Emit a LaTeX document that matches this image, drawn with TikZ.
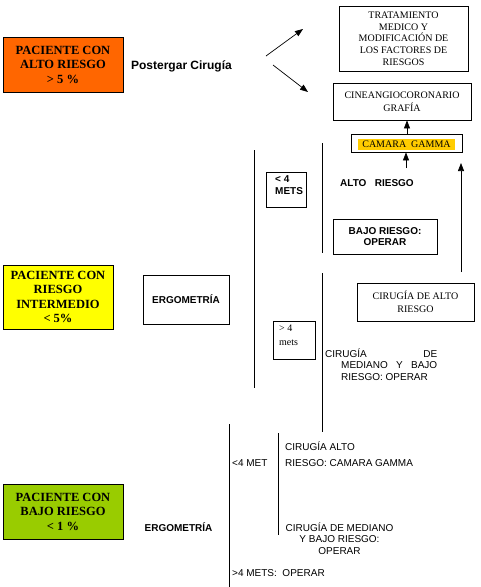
\documentclass[tikz,border=0pt]{standalone}
\usepackage{fontspec}
\setmainfont{Liberation Serif}
\setsansfont{Liberation Sans}
\usetikzlibrary{arrows.meta}
\definecolor{naranja}{RGB}{255,102,0}
\definecolor{amarillo}{RGB}{255,255,0}
\definecolor{verde}{RGB}{153,204,0}
\definecolor{resalte}{RGB}{255,204,0}
\begin{document}
\begin{tikzpicture}[x=1pt,y=-1pt,
  box/.style={draw, line width=0.8pt, inner sep=0pt, align=center},
  patient/.style={box, font=\fontsize{12.5}{14.5}\selectfont\bfseries},
  serifR/.style={font=\fontsize{10}{11.7}\selectfont},
  sansB/.style={font=\sffamily\bfseries\fontsize{10}{11.5}\selectfont},
  sansR/.style={font=\sffamily\fontsize{10}{11.5}\selectfont},
  arr/.style={-{Triangle[length=8pt,width=6pt]}, line width=0.7pt},
  ln/.style={line width=0.8pt}]
\useasboundingbox[fill=white] (0,0) rectangle (480,587);

% patient boxes
\node[patient, fill=naranja, minimum width=120, minimum height=55] (alto) at (63,64.5) {PACIENTE CON\\ALTO RIESGO\\> 5 \%};
\node[patient, fill=amarillo, minimum width=110, minimum height=64] (inter) at (58,297) {PACIENTE CON\\RIESGO\\INTERMEDIO\\< 5\%};
\node[patient, fill=verde, minimum width=120, minimum height=55] (bajoP) at (63,511.5) {PACIENTE CON\\BAJO RIESGO\\< 1 \%};

% top section
\node[font=\sffamily\bfseries\fontsize{12}{14}\selectfont, inner sep=0pt] (post) at (181.5,66) {Postergar Cirugía};
\node[box, serifR, minimum width=129, minimum height=65] (trat) at (403.5,38.5) {TRATAMIENTO\\MEDICO Y\\MODIFICACIÓN DE\\LOS FACTORES DE\\RIESGOS};
\node[box, serifR, minimum width=138, minimum height=37, font=\fontsize{10}{12.5}\selectfont] (cine) at (402,101.5) {CINEANGIOCORONARIO\\GRAFÍA};
\node[box, minimum width=111, minimum height=18] (gamma) at (406.5,143) {};
\node[serifR, fill=resalte, inner sep=0pt, minimum width=97, minimum height=11] (gammat) at (406.5,144) {CAMARA\ \ GAMMA};

\coordinate (pa1s) at (266,56); \coordinate (pa1e) at (303,29);
\coordinate (pa2s) at (273,65); \coordinate (pa2e) at (308,92);
\draw[arr] (pa1s) -- (pa1e);
\draw[arr] (pa2s) -- (pa2e);
\draw[arr] (gamma.north -| 407,0) -- (cine.south -| 407,0);

% intermediate section
\node[box, minimum width=86, minimum height=49, font=\sffamily\bfseries\fontsize{10}{11.5}\selectfont] (ergo) at (186,299.5) {ERGOMETRÍA};
\coordinate (l1t) at (254,150); \coordinate (l1b) at (254,388);
\draw[ln] (l1t) -- (l1b);
\coordinate (l2t) at (322,143); \coordinate (l2m) at (322,253);
\coordinate (l3t) at (322,273); \coordinate (l3b) at (322,432);
\draw[ln] (l2t) -- (l2m);
\draw[ln] (l3t) -- (l3b);

\node[draw, line width=0.8pt, minimum width=40, minimum height=35, inner sep=0pt] (mets4) at (286,189.5) {};
\node[sansB, anchor=north west, align=left, inner sep=0pt] (mets4t) at (275,175.5) {< 4\\METS};
\node[sansB, anchor=west, inner sep=0pt] (altoR) at (340,183) {ALTO\ \ \ RIESGO};
\node[box, sansB, minimum width=104, minimum height=35] (bajo) at (385,236.5) {BAJO RIESGO:\\OPERAR};

\node[box, serifR, minimum width=117, minimum height=38, font=\fontsize{10}{12.5}\selectfont] (altoC) at (415.5,302) {CIRUGÍA DE ALTO\\RIESGO};
\node[draw, line width=0.8pt, minimum width=42, minimum height=38, inner sep=0pt] (mets4b) at (294,340) {};
\node[serifR, anchor=north west, align=left, inner sep=0pt, font=\fontsize{10}{14}\selectfont] (mets4bt) at (279,325) {> 4\\mets};
\node[sansR, anchor=north west, align=left, inner sep=0pt] (medA) at (325,348.5) {\makebox[112pt][s]{CIRUGÍA\hfill DE}\\\hspace*{16pt}\makebox[96pt][s]{MEDIANO\hfill Y\hfill BAJO}\\\hspace*{16pt}RIESGO: OPERAR};

\coordinate (a1s) at (406,168);
\draw[arr] (a1s) -- (gamma.south -| a1s);
\coordinate (a2s) at (461,272); \coordinate (a2e) at (461,163);
\draw[arr] (a2s) -- (a2e);

% low-risk section
\node[sansB, inner sep=0pt] (ergo2) at (178.5,527) {ERGOMETRÍA};
\coordinate (l4t) at (229,424); \coordinate (l4b) at (229,587);
\draw[ln] (l4t) -- (l4b);
\coordinate (l5t) at (278,433); \coordinate (l5b) at (278,535);
\draw[ln] (l5t) -- (l5b);
\node[sansR, anchor=west, inner sep=0pt] (met4) at (232,463) {<4 MET};
\node[sansR, anchor=west, inner sep=0pt] (cirA) at (285,446) {CIRUGÍA ALTO};
\node[sansR, anchor=west, inner sep=0pt] (cirB) at (285,463) {RIESGO: CAMARA GAMMA};
\node[sansR, align=center, inner sep=0pt] (cirM) at (339.5,538.5) {CIRUGÍA DE MEDIANO\\Y BAJO RIESGO:\\OPERAR};
\node[sansR, anchor=west, inner sep=0pt] (met4b) at (232,573) {>4 METS:\ \ OPERAR};
\end{tikzpicture}
\end{document}
